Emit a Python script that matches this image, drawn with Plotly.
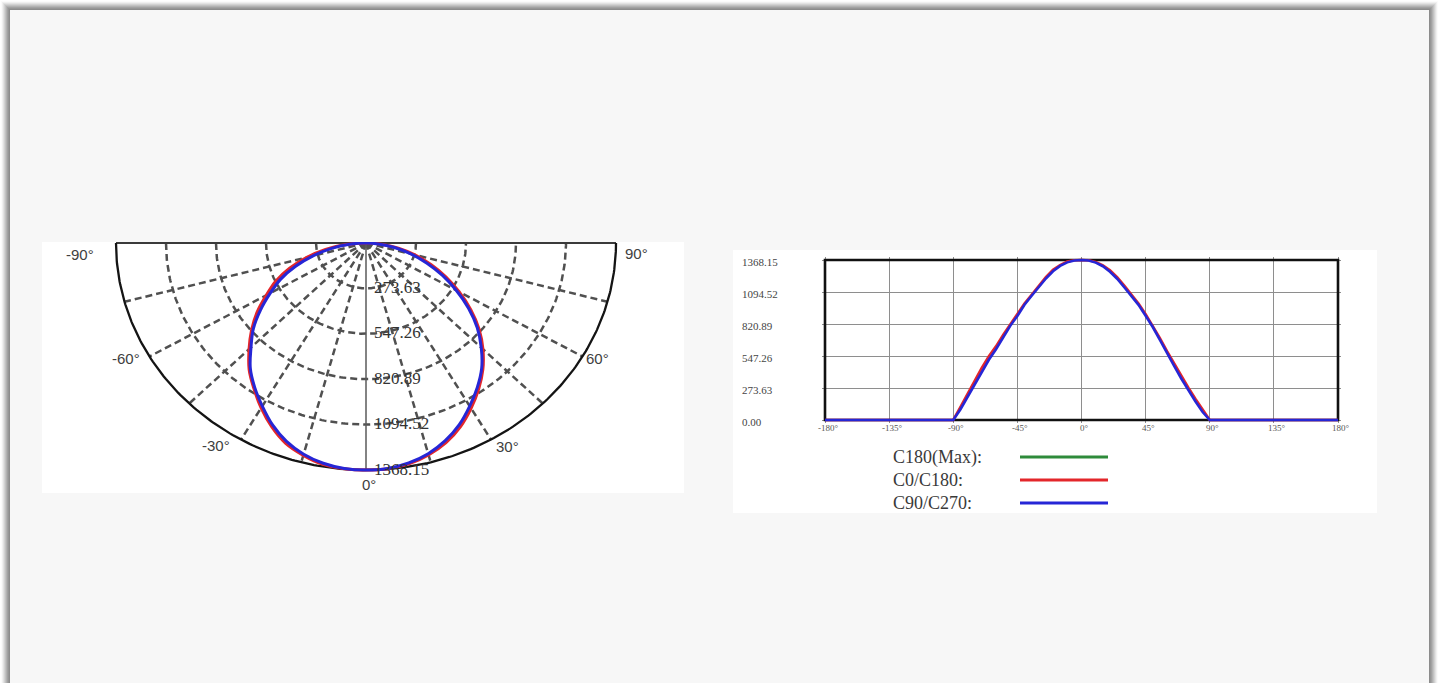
import numpy as np
import plotly.graph_objects as go

W, H = 1439, 683

# ---------------- data ----------------
IMAX = 1368.15
angles = [-180, -135, -90, -85, -80, -75, -70, -65, -60, -55, -50, -45, -40, -35, -30, -25, -20, -15, -10, -5,
          0, 5, 10, 15, 20, 25, 30, 35, 40, 45, 50, 55, 60, 65, 70, 75, 80, 85, 90, 135, 180]
c0_c180 = [0, 0, 0, 110, 225, 335, 445, 545, 630, 728, 818, 905, 995, 1070, 1148, 1222, 1285, 1325, 1355, 1366,
           1368.15, 1366, 1352, 1322, 1280, 1222, 1150, 1075, 995, 905, 808, 700, 588, 482, 378, 277, 180, 85, 0, 0, 0]
c90_c270 = [0, 0, 0, 90, 195, 300, 410, 515, 605, 705, 805, 890, 985, 1062, 1135, 1210, 1272, 1318, 1348, 1364,
            1368.15, 1364, 1346, 1315, 1268, 1208, 1135, 1062, 985, 892, 795, 685, 570, 462, 355, 254, 158, 68, 0, 0, 0]

ring_values = [273.63, 547.26, 820.89, 1094.52, 1368.15]
ring_labels = ["273.63", "547.26", "820.89", "1094.52", "1368.15"]
polar_spokes = [-75, -60, -45, -30, -15, 15, 30, 45, 60, 75]
polar_angle_ticks = [-90, -60, -30, 0, 30, 60, 90]
polar_angle_labels = ["-90°", "-60°", "-30°", "0°", "30°", "60°", "90°"]

cart_x_ticks = [-180, -135, -90, -45, 0, 45, 90, 135, 180]
cart_x_labels = ["-180°", "-135°", "-90°", "-45°", "0°", "45°", "90°", "135°", "180°"]
cart_y_ticks = [0, 273.63, 547.26, 820.89, 1094.52, 1368.15]
cart_y_labels = ["0.00", "273.63", "547.26", "820.89", "1094.52", "1368.15"]

legend_names = ["C180(Max):", "C0/C180:", "C90/C270:"]
legend_colors = ["#2e8b3b", "#e3262b", "#2626d6"]
RED, BLUE = legend_colors[1], legend_colors[2]

# ---------------- layout helpers ----------------
def px(x):
    return x / W

def py(y):
    return 1 - y / H

# polar diagram placement (pixels)
PCX, PCY = 366, 243
PRX, PRY = 250, 227
sx, sy = PRX / IMAX, PRY / IMAX
PBOX = (42, 242, 684, 493)
xr_p = [(PBOX[0] - PCX) / sx, (PBOX[2] - PCX) / sx]
yr_p = [-(PBOX[3] - PCY) / sy, -(PBOX[1] - PCY) / sy]

# cartesian chart placement (pixels)
CL, CR, CT, CB = 825, 1338, 260, 420
PAD = 3
pxdeg = (CR - CL) / 360.0
pxval = (CB - CT) / IMAX
CBOX = (733, 250, 1377, 513)


def to_xy(theta_deg, r):
    t = np.radians(np.asarray(theta_deg, dtype=float))
    r = np.asarray(r, dtype=float)
    return r * np.sin(t), -r * np.cos(t)


fig = go.Figure()

GRID = "#505050"
DASH = "7px,4px"
arc = np.linspace(-90, 90, 241)

# dashed rings
for rv in ring_values[:-1]:
    x, y = to_xy(arc, np.full_like(arc, rv))
    fig.add_trace(go.Scatter(x=x, y=y, mode="lines", line=dict(color=GRID, width=2.5, dash=DASH),
                             hoverinfo="skip", xaxis="x", yaxis="y"))
# spokes
for a in polar_spokes:
    x, y = to_xy([a, a], [0, IMAX])
    fig.add_trace(go.Scatter(x=x, y=y, mode="lines", line=dict(color=GRID, width=2.5, dash=DASH),
                             hoverinfo="skip", xaxis="x", yaxis="y"))
# 90° line at top
x, y = to_xy([-90, 90], [IMAX, IMAX])
fig.add_trace(go.Scatter(x=x, y=y, mode="lines", line=dict(color="#3a3a3a", width=2.2),
                         hoverinfo="skip", xaxis="x", yaxis="y"))
# 0° line
x, y = to_xy([0, 0], [0, IMAX])
fig.add_trace(go.Scatter(x=x, y=y, mode="lines", line=dict(color="#5a5a5a", width=1.5),
                         hoverinfo="skip", xaxis="x", yaxis="y"))
# outer ring
x, y = to_xy(arc, np.full_like(arc, ring_values[-1]))
fig.add_trace(go.Scatter(x=x, y=y, mode="lines", line=dict(color="#141414", width=2.3),
                         hoverinfo="skip", xaxis="x", yaxis="y"))

# polar curves
sel = [i for i, a in enumerate(angles) if -90 <= a <= 90]
pa = [angles[i] for i in sel]
for vals, col in ((c0_c180, RED), (c90_c270, BLUE)):
    x, y = to_xy(pa, [vals[i] for i in sel])
    fig.add_trace(go.Scatter(x=x, y=y, mode="lines", line=dict(color=col, width=3, shape="spline", smoothing=1),
                             hoverinfo="skip", xaxis="x", yaxis="y"))

# cartesian curves
for vals, col in ((c0_c180, RED), (c90_c270, BLUE)):
    fig.add_trace(go.Scatter(x=angles, y=vals, mode="lines", line=dict(color=col, width=2.6),
                             hoverinfo="skip", xaxis="x2", yaxis="y2", cliponaxis=False))

annotations = []
# polar ring labels
for rv, lab in zip(ring_values, ring_labels):
    annotations.append(dict(x=0, y=-rv, xref="x", yref="y", text=lab, showarrow=False,
                            xanchor="left", yanchor="middle", xshift=6, yshift=1,
                            font=dict(family="Liberation Serif", size=17, color="#333333")))
# polar angle labels
ang_offsets = [(-36, -11), (-23, -2), (-25, -6), (3, -14), (16, -7), (15, -2), (20, -10)]
for a, lab, (dx, dy) in zip(polar_angle_ticks, polar_angle_labels, ang_offsets):
    x, y = to_xy([a], [IMAX])
    annotations.append(dict(x=float(x[0]), y=float(y[0]), xref="x", yref="y", text=lab, showarrow=False,
                            xanchor="center", yanchor="middle", xshift=dx, yshift=dy,
                            font=dict(family="Liberation Sans", size=15, color="#404040")))
# cartesian tick labels
for v, lab in zip(cart_y_ticks, cart_y_labels):
    annotations.append(dict(x=px(740), y=v, xref="paper", yref="y2", text=lab, showarrow=False,
                            xanchor="left", yanchor="middle", yshift=-2,
                            font=dict(family="Liberation Serif", size=11, color="#444444")))
for v, lab in zip(cart_x_ticks, cart_x_labels):
    annotations.append(dict(x=v, y=0, xref="x2", yref="y2", text=lab, showarrow=False,
                            xanchor="center", yanchor="top", xshift=3, yshift=-1,
                            font=dict(family="Liberation Serif", size=9, color="#555555")))
# legend
legend_rows = [457, 480, 503]
shapes = []
for name, col, ry in zip(legend_names, legend_colors, legend_rows):
    annotations.append(dict(x=px(891), y=py(ry), xref="paper", yref="paper", text=name, showarrow=False,
                            xanchor="left", yanchor="middle",
                            font=dict(family="Liberation Serif", size=18, color="#3a3a3a")))

# ---------------- background shapes ----------------
shadow_cols = ["#fbfbfb", "#f0f0f0", "#e2e2e2", "#d2d2d2", "#c2c2c2", "#b2b2b2", "#a2a2a2", "#969696", "#8c8c8c"]
for i, c in enumerate(shadow_cols):
    o = 1 + i
    shapes.append(dict(type="rect", xref="paper", yref="paper", x0=px(o), x1=px(W - o), y0=py(H + 30), y1=py(o),
                       fillcolor=c, line=dict(width=0), layer="below"))
shapes.append(dict(type="rect", xref="paper", yref="paper", x0=px(10), x1=px(W - 10), y0=py(H + 30), y1=py(10),
                   fillcolor="#f7f7f7", line=dict(width=0), layer="below"))
for b in (PBOX, CBOX):
    shapes.append(dict(type="rect", xref="paper", yref="paper", x0=px(b[0]), x1=px(b[2]), y0=py(b[3]), y1=py(b[1]),
                       fillcolor="#ffffff", line=dict(width=0), layer="below"))
# cartesian frame
shapes.append(dict(type="rect", xref="x2", yref="y2", x0=-180, x1=180, y0=0, y1=IMAX,
                   line=dict(color="#111111", width=2.6), fillcolor="rgba(0,0,0,0)", layer="between"))
# legend sample lines
for col, ry in zip(legend_colors, legend_rows):
    shapes.append(dict(type="line", xref="paper", yref="paper", x0=px(1020), x1=px(1108), y0=py(ry), y1=py(ry),
                       line=dict(color=col, width=3)))

fig.update_layout(
    width=W, height=H, margin=dict(l=0, r=0, t=0, b=0),
    paper_bgcolor="#ffffff", plot_bgcolor="rgba(0,0,0,0)",
    showlegend=False,
    xaxis=dict(domain=[px(PBOX[0]), px(PBOX[2])], range=xr_p, visible=False, fixedrange=True),
    yaxis=dict(domain=[py(PBOX[3]), py(PBOX[1])], range=yr_p, visible=False, fixedrange=True),
    xaxis2=dict(domain=[px(CL - PAD), px(CR + PAD)], range=[-180 - PAD / pxdeg, 180 + PAD / pxdeg],
                tickvals=cart_x_ticks, showticklabels=False, ticks="", showgrid=True,
                gridcolor="#8e8e8e", gridwidth=1.3, zeroline=False, showline=False, anchor="y2", fixedrange=True),
    yaxis2=dict(domain=[py(CB + PAD), py(CT - PAD)], range=[-PAD / pxval, IMAX + PAD / pxval],
                tickvals=cart_y_ticks, showticklabels=False, ticks="", showgrid=True,
                gridcolor="#8e8e8e", gridwidth=1.3, zeroline=False, showline=False, anchor="x2", fixedrange=True),
    annotations=annotations,
    shapes=shapes,
)

fig.write_html("out.html", config={"displayModeBar": False},
               post_script="document.body.style.margin='0';document.body.style.overflow='hidden';")
